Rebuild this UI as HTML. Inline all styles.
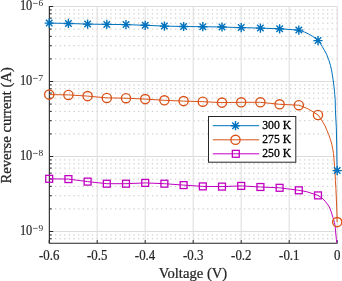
<!DOCTYPE html><html><head><meta charset="utf-8"><style>html,body{margin:0;padding:0;background:#fff;}svg{display:block;will-change:transform;}text{font-family:"Liberation Serif",serif;fill:#1a1a1a;}</style></head><body>
<svg width="342" height="281" viewBox="0 0 342 281">
<rect width="342" height="281" fill="#fff"/>
<defs><clipPath id="ax"><rect x="49.20" y="6.50" width="289.50" height="236.22"/></clipPath></defs>
<path d="M49.20 238.77H337.20 M49.20 234.93H337.20 M49.20 208.92H337.20 M49.20 195.72H337.20 M49.20 186.35H337.20 M49.20 179.08H337.20 M49.20 173.14H337.20 M49.20 168.12H337.20 M49.20 163.77H337.20 M49.20 159.93H337.20 M49.20 133.92H337.20 M49.20 120.72H337.20 M49.20 111.35H337.20 M49.20 104.08H337.20 M49.20 98.14H337.20 M49.20 93.12H337.20 M49.20 88.77H337.20 M49.20 84.93H337.20 M49.20 58.92H337.20 M49.20 45.72H337.20 M49.20 36.35H337.20 M49.20 29.08H337.20 M49.20 23.14H337.20 M49.20 18.12H337.20 M49.20 13.77H337.20 M49.20 9.93H337.20" stroke="#c4c4c4" stroke-width="1" stroke-dasharray="1.3 3.31" stroke-dashoffset="-1.2" fill="none"/>
<path d="M49.20 231.50H337.20 M49.20 156.50H337.20 M49.20 81.50H337.20 M49.20 6.50H337.20 M97.20 6.50V243.12 M145.20 6.50V243.12 M193.20 6.50V243.12 M241.20 6.50V243.12 M289.20 6.50V243.12 M337.20 6.50V243.12 M49.20 6.50H337.20" stroke="#dcdcdc" stroke-width="1" fill="none"/>
<path d="M49.20 231.50h4 M49.20 156.50h4 M49.20 81.50h4 M49.20 6.50h4 M49.20 238.77h2.5 M49.20 234.93h2.5 M49.20 208.92h2.5 M49.20 195.72h2.5 M49.20 186.35h2.5 M49.20 179.08h2.5 M49.20 173.14h2.5 M49.20 168.12h2.5 M49.20 163.77h2.5 M49.20 159.93h2.5 M49.20 133.92h2.5 M49.20 120.72h2.5 M49.20 111.35h2.5 M49.20 104.08h2.5 M49.20 98.14h2.5 M49.20 93.12h2.5 M49.20 88.77h2.5 M49.20 84.93h2.5 M49.20 58.92h2.5 M49.20 45.72h2.5 M49.20 36.35h2.5 M49.20 29.08h2.5 M49.20 23.14h2.5 M49.20 18.12h2.5 M49.20 13.77h2.5 M49.20 9.93h2.5 M49.20 243.12v-3 M97.20 243.12v-3 M145.20 243.12v-3 M193.20 243.12v-3 M241.20 243.12v-3 M289.20 243.12v-3 M337.20 243.12v-3" stroke="#262626" stroke-width="1" fill="none"/>
<path d="M49.35 6.00V243.3H337.50" stroke="#262626" stroke-width="1.1" fill="none"/>
<g clip-path="url(#ax)">
<path d="M49.20 23.10 L68.40 23.45 L87.60 24.10 L106.80 24.40 L126.00 24.60 L145.20 25.30 L164.40 26.10 L183.60 26.50 L202.80 26.70 L222.00 27.00 L241.20 27.60 L260.40 28.10 L279.60 28.80 L298.80 30.10 L304.40 32.00 L308.70 34.00 L312.20 36.10 L315.80 38.60 L318.00 40.60 L320.10 43.10 L322.30 46.70 L324.40 50.20 L326.50 54.10 L328.70 59.70 L330.50 65.40 L331.90 72.00 L333.00 79.10 L333.70 84.10 L334.50 91.20 L334.70 94.30 L335.20 99.30 L335.40 109.20 L335.80 118.00 L336.30 127.20 L336.60 140.00 L336.80 152.00 L336.95 162.00 L337.20 170.60" stroke="#0072BD" stroke-width="1" fill="none" stroke-linejoin="round"/>
<path d="M49.20 94.60 L68.40 94.90 L87.60 96.10 L106.80 97.90 L126.00 98.20 L145.20 99.10 L164.40 100.30 L183.60 101.10 L202.80 101.70 L222.00 102.60 L241.20 102.30 L260.40 102.30 L279.60 104.30 L298.80 105.20 L307.70 108.70 L313.10 111.90 L318.00 115.00 L320.80 118.80 L323.00 122.40 L325.10 126.00 L326.90 130.20 L328.70 134.60 L330.50 139.70 L331.90 144.70 L332.90 149.70 L333.50 153.60 L334.00 159.10 L334.50 166.20 L335.10 172.50 L335.40 180.70 L335.90 188.50 L336.20 195.00 L336.60 205.00 L336.90 212.00 L337.10 222.10" stroke="#D95319" stroke-width="1" fill="none" stroke-linejoin="round"/>
<path d="M49.20 178.80 L68.40 179.10 L87.60 181.60 L106.80 183.70 L126.00 183.70 L145.20 182.90 L164.40 183.70 L183.60 185.10 L202.80 186.40 L222.00 186.60 L241.20 185.90 L260.40 187.00 L279.60 187.80 L298.80 190.30 L306.70 191.70 L318.00 195.40 L322.30 198.30 L325.10 201.20 L327.30 204.00 L329.40 207.00 L331.20 211.70 L332.90 217.40 L334.40 222.40 L335.10 225.60 L335.60 231.80 L336.40 239.60 L336.80 242.80 L337.20 250.00" stroke="#C000C0" stroke-width="1" fill="none" stroke-linejoin="round"/>
</g>
<path d="M44.60 23.10H53.80M49.20 18.50V27.70M45.95 19.85L52.45 26.35M45.95 26.35L52.45 19.85" stroke="#0072BD" stroke-width="1.4" fill="none"/>
<path d="M63.80 23.45H73.00M68.40 18.85V28.05M65.15 20.20L71.65 26.70M65.15 26.70L71.65 20.20" stroke="#0072BD" stroke-width="1.4" fill="none"/>
<path d="M83.00 24.10H92.20M87.60 19.50V28.70M84.35 20.85L90.85 27.35M84.35 27.35L90.85 20.85" stroke="#0072BD" stroke-width="1.4" fill="none"/>
<path d="M102.20 24.40H111.40M106.80 19.80V29.00M103.55 21.15L110.05 27.65M103.55 27.65L110.05 21.15" stroke="#0072BD" stroke-width="1.4" fill="none"/>
<path d="M121.40 24.60H130.60M126.00 20.00V29.20M122.75 21.35L129.25 27.85M122.75 27.85L129.25 21.35" stroke="#0072BD" stroke-width="1.4" fill="none"/>
<path d="M140.60 25.30H149.80M145.20 20.70V29.90M141.95 22.05L148.45 28.55M141.95 28.55L148.45 22.05" stroke="#0072BD" stroke-width="1.4" fill="none"/>
<path d="M159.80 26.10H169.00M164.40 21.50V30.70M161.15 22.85L167.65 29.35M161.15 29.35L167.65 22.85" stroke="#0072BD" stroke-width="1.4" fill="none"/>
<path d="M179.00 26.50H188.20M183.60 21.90V31.10M180.35 23.25L186.85 29.75M180.35 29.75L186.85 23.25" stroke="#0072BD" stroke-width="1.4" fill="none"/>
<path d="M198.20 26.70H207.40M202.80 22.10V31.30M199.55 23.45L206.05 29.95M199.55 29.95L206.05 23.45" stroke="#0072BD" stroke-width="1.4" fill="none"/>
<path d="M217.40 27.00H226.60M222.00 22.40V31.60M218.75 23.75L225.25 30.25M218.75 30.25L225.25 23.75" stroke="#0072BD" stroke-width="1.4" fill="none"/>
<path d="M236.60 27.60H245.80M241.20 23.00V32.20M237.95 24.35L244.45 30.85M237.95 30.85L244.45 24.35" stroke="#0072BD" stroke-width="1.4" fill="none"/>
<path d="M255.80 28.10H265.00M260.40 23.50V32.70M257.15 24.85L263.65 31.35M257.15 31.35L263.65 24.85" stroke="#0072BD" stroke-width="1.4" fill="none"/>
<path d="M275.00 28.80H284.20M279.60 24.20V33.40M276.35 25.55L282.85 32.05M276.35 32.05L282.85 25.55" stroke="#0072BD" stroke-width="1.4" fill="none"/>
<path d="M294.20 30.10H303.40M298.80 25.50V34.70M295.55 26.85L302.05 33.35M295.55 33.35L302.05 26.85" stroke="#0072BD" stroke-width="1.4" fill="none"/>
<path d="M313.40 40.60H322.60M318.00 36.00V45.20M314.75 37.35L321.25 43.85M314.75 43.85L321.25 37.35" stroke="#0072BD" stroke-width="1.4" fill="none"/>
<path d="M332.60 170.60H341.80M337.20 166.00V175.20M333.95 167.35L340.45 173.85M333.95 173.85L340.45 167.35" stroke="#0072BD" stroke-width="1.4" fill="none"/>
<circle cx="49.20" cy="94.60" r="4.6" stroke="#D95319" stroke-width="1.35" fill="none"/>
<circle cx="68.40" cy="94.90" r="4.6" stroke="#D95319" stroke-width="1.35" fill="none"/>
<circle cx="87.60" cy="96.10" r="4.6" stroke="#D95319" stroke-width="1.35" fill="none"/>
<circle cx="106.80" cy="97.90" r="4.6" stroke="#D95319" stroke-width="1.35" fill="none"/>
<circle cx="126.00" cy="98.20" r="4.6" stroke="#D95319" stroke-width="1.35" fill="none"/>
<circle cx="145.20" cy="99.10" r="4.6" stroke="#D95319" stroke-width="1.35" fill="none"/>
<circle cx="164.40" cy="100.30" r="4.6" stroke="#D95319" stroke-width="1.35" fill="none"/>
<circle cx="183.60" cy="101.10" r="4.6" stroke="#D95319" stroke-width="1.35" fill="none"/>
<circle cx="202.80" cy="101.70" r="4.6" stroke="#D95319" stroke-width="1.35" fill="none"/>
<circle cx="222.00" cy="102.60" r="4.6" stroke="#D95319" stroke-width="1.35" fill="none"/>
<circle cx="241.20" cy="102.30" r="4.6" stroke="#D95319" stroke-width="1.35" fill="none"/>
<circle cx="260.40" cy="102.30" r="4.6" stroke="#D95319" stroke-width="1.35" fill="none"/>
<circle cx="279.60" cy="104.30" r="4.6" stroke="#D95319" stroke-width="1.35" fill="none"/>
<circle cx="298.80" cy="105.20" r="4.6" stroke="#D95319" stroke-width="1.35" fill="none"/>
<circle cx="318.00" cy="115.00" r="4.6" stroke="#D95319" stroke-width="1.35" fill="none"/>
<circle cx="337.20" cy="222.10" r="4.6" stroke="#D95319" stroke-width="1.35" fill="none"/>
<rect x="45.75" y="175.35" width="6.9" height="6.9" stroke="#C000C0" stroke-width="1.3" fill="none"/>
<rect x="64.95" y="175.65" width="6.9" height="6.9" stroke="#C000C0" stroke-width="1.3" fill="none"/>
<rect x="84.15" y="178.15" width="6.9" height="6.9" stroke="#C000C0" stroke-width="1.3" fill="none"/>
<rect x="103.35" y="180.25" width="6.9" height="6.9" stroke="#C000C0" stroke-width="1.3" fill="none"/>
<rect x="122.55" y="180.25" width="6.9" height="6.9" stroke="#C000C0" stroke-width="1.3" fill="none"/>
<rect x="141.75" y="179.45" width="6.9" height="6.9" stroke="#C000C0" stroke-width="1.3" fill="none"/>
<rect x="160.95" y="180.25" width="6.9" height="6.9" stroke="#C000C0" stroke-width="1.3" fill="none"/>
<rect x="180.15" y="181.65" width="6.9" height="6.9" stroke="#C000C0" stroke-width="1.3" fill="none"/>
<rect x="199.35" y="182.95" width="6.9" height="6.9" stroke="#C000C0" stroke-width="1.3" fill="none"/>
<rect x="218.55" y="183.15" width="6.9" height="6.9" stroke="#C000C0" stroke-width="1.3" fill="none"/>
<rect x="237.75" y="182.45" width="6.9" height="6.9" stroke="#C000C0" stroke-width="1.3" fill="none"/>
<rect x="256.95" y="183.55" width="6.9" height="6.9" stroke="#C000C0" stroke-width="1.3" fill="none"/>
<rect x="276.15" y="184.35" width="6.9" height="6.9" stroke="#C000C0" stroke-width="1.3" fill="none"/>
<rect x="295.35" y="186.85" width="6.9" height="6.9" stroke="#C000C0" stroke-width="1.3" fill="none"/>
<rect x="314.55" y="191.95" width="6.9" height="6.9" stroke="#C000C0" stroke-width="1.3" fill="none"/>
<text transform="translate(38.93 259.50) scale(0.9500 1)" font-size="13.6" style="fill:#262626" stroke="#262626" stroke-width="0.22">-0.6</text>
<text transform="translate(86.99 259.50) scale(0.9500 1)" font-size="13.6" style="fill:#262626" stroke="#262626" stroke-width="0.22">-0.5</text>
<text transform="translate(134.84 259.50) scale(0.9500 1)" font-size="13.6" style="fill:#262626" stroke="#262626" stroke-width="0.22">-0.4</text>
<text transform="translate(182.99 259.50) scale(0.9500 1)" font-size="13.6" style="fill:#262626" stroke="#262626" stroke-width="0.22">-0.3</text>
<text transform="translate(231.09 259.50) scale(0.9500 1)" font-size="13.6" style="fill:#262626" stroke="#262626" stroke-width="0.22">-0.2</text>
<text transform="translate(279.12 259.50) scale(0.9500 1)" font-size="13.6" style="fill:#262626" stroke="#262626" stroke-width="0.22">-0.1</text>
<text transform="translate(333.97 259.50) scale(0.9500 1)" font-size="13.6" style="fill:#262626" stroke="#262626" stroke-width="0.22">0</text>
<text transform="translate(19.91 234.90) scale(0.9020 1)" font-size="13.7" style="fill:#262626" stroke="#262626" stroke-width="0.2">10</text>
<path d="M33.0 228.40H37.7" stroke="#262626" stroke-width="0.65"/>
<text transform="translate(38.60 230.90) scale(1.2010 1)" font-size="7.8" style="fill:#262626" >9</text>
<text transform="translate(19.91 159.90) scale(0.9020 1)" font-size="13.7" style="fill:#262626" stroke="#262626" stroke-width="0.2">10</text>
<path d="M33.0 153.40H37.7" stroke="#262626" stroke-width="0.65"/>
<text transform="translate(38.54 155.90) scale(1.2095 1)" font-size="7.8" style="fill:#262626" >8</text>
<text transform="translate(19.91 84.90) scale(0.9020 1)" font-size="13.7" style="fill:#262626" stroke="#262626" stroke-width="0.2">10</text>
<path d="M33.0 78.40H37.7" stroke="#262626" stroke-width="0.65"/>
<text transform="translate(38.25 80.90) scale(1.2662 1)" font-size="7.8" style="fill:#262626" >7</text>
<text transform="translate(19.91 9.90) scale(0.9020 1)" font-size="13.7" style="fill:#262626" stroke="#262626" stroke-width="0.2">10</text>
<path d="M33.0 3.40H37.7" stroke="#262626" stroke-width="0.65"/>
<text transform="translate(38.50 5.90) scale(1.2010 1)" font-size="7.8" style="fill:#262626" >6</text>
<text transform="translate(158.74 277.50) scale(1.0791 1)" font-size="13.6" style="fill:#262626" stroke="#262626" stroke-width="0.22">Voltage (V)</text>
<g transform="translate(10.9 0) rotate(-90)"><text transform="translate(-183.53 0.00) scale(1.0795 1)" font-size="13.6" style="fill:#262626" stroke="#262626" stroke-width="0.25">Reverse current (A)</text></g>
<rect x="208.5" y="116.5" width="87.30" height="45.70" fill="#fff" stroke="#262626" stroke-width="1"/>
<path d="M212.8 125.7H259.2" stroke="#0072BD" stroke-width="1"/>
<path d="M212.8 139.8H259.2" stroke="#D95319" stroke-width="1"/>
<path d="M212.8 153.8H259.2" stroke="#C000C0" stroke-width="1"/>
<path d="M230.90 125.70H240.10M235.50 121.10V130.30M232.25 122.45L238.75 128.95M232.25 128.95L238.75 122.45" stroke="#0072BD" stroke-width="1.4" fill="none"/>
<circle cx="235.50" cy="139.80" r="4.6" stroke="#D95319" stroke-width="1.35" fill="none"/>
<rect x="232.35" y="150.35" width="6.9" height="6.9" stroke="#C000C0" stroke-width="1.3" fill="none"/>
<text transform="translate(262.24 129.00) scale(0.9900 1)" font-size="11.8" style="fill:#000" stroke="#000" stroke-width="0.3">300 K</text>
<text transform="translate(262.29 143.10) scale(0.9884 1)" font-size="11.8" style="fill:#000" stroke="#000" stroke-width="0.3">275 K</text>
<text transform="translate(262.29 157.10) scale(0.9884 1)" font-size="11.8" style="fill:#000" stroke="#000" stroke-width="0.3">250 K</text>
</svg></body></html>
